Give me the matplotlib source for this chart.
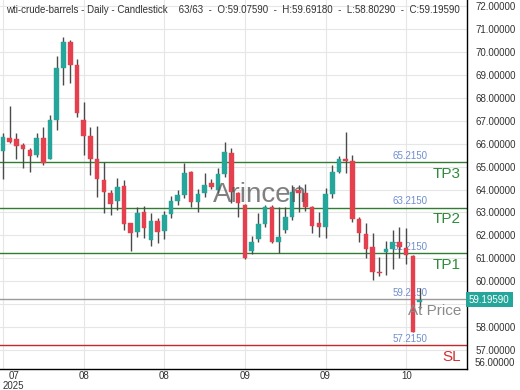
import matplotlib
matplotlib.use("Agg")
import matplotlib.pyplot as plt
import numpy as np

plt.rcParams['font.family'] = ['Liberation Sans', 'DejaVu Sans']

opens = [65.68, 66.25, 66.20, 65.94, 65.72, 65.50, 66.25, 65.33, 67.03, 69.30,
         70.44, 69.44, 67.03, 66.33, 65.33, 64.42, 63.84, 63.49, 64.15, 62.54,
         62.14, 63.01, 61.79, 62.62, 62.19, 62.93, 63.49, 63.76, 64.76, 63.45,
         63.85, 64.28, 63.98, 64.68, 65.59, 63.84, 63.32, 61.30, 61.84, 62.49,
         63.23, 61.71, 62.23, 62.80, 63.98, 63.84, 63.23, 62.54, 62.36, 63.80,
         64.76, 65.33, 65.24, 62.71, 62.05, 61.48, 60.41, 61.26, 61.39, 61.70,
         61.45, 61.10, 59.0759]
highs = [66.47, 67.65, 66.47, 66.03, 65.81, 66.47, 66.73, 67.25, 69.83, 70.66,
         70.53, 69.70, 67.82, 66.73, 66.77, 65.20, 63.98, 64.50, 64.41, 62.54,
         63.23, 63.28, 62.97, 62.75, 63.06, 63.71, 63.98, 65.15, 64.80, 64.02,
         64.72, 64.46, 64.94, 66.07, 65.81, 63.89, 63.36, 61.99, 62.97, 63.32,
         63.32, 63.23, 63.23, 64.19, 64.19, 64.24, 63.30, 63.01, 64.06, 65.07,
         65.46, 66.51, 65.51, 62.80, 62.54, 62.10, 61.04, 61.75, 62.23, 62.36,
         62.32, 61.15, 59.6918]
lows = [64.46, 66.03, 65.33, 64.94, 64.76, 65.42, 65.07, 65.33, 66.60, 68.56,
        68.65, 67.17, 65.50, 64.63, 63.67, 62.97, 62.88, 63.10, 62.23, 61.30,
        61.92, 61.88, 61.53, 61.66, 61.84, 62.75, 63.32, 63.63, 63.23, 63.01,
        63.67, 64.02, 63.85, 64.54, 63.41, 62.80, 60.98, 61.17, 61.71, 62.36,
        61.66, 61.22, 62.10, 62.67, 63.01, 63.06, 62.10, 61.92, 61.88, 63.63,
        64.72, 64.72, 62.58, 61.71, 61.00, 60.04, 60.21, 60.25, 60.51, 60.99,
        60.75, 57.78, 58.8029]
closes = [66.29, 66.08, 65.90, 65.77, 65.46, 66.25, 65.16, 67.03, 69.30, 70.44,
          69.44, 67.34, 66.33, 65.33, 64.46, 63.88, 63.36, 64.10, 62.49, 62.10,
          62.97, 62.32, 62.62, 62.14, 62.88, 63.49, 63.76, 64.72, 63.45, 63.80,
          64.19, 64.10, 64.68, 65.63, 63.89, 63.41, 61.00, 61.69, 62.49, 63.23,
          61.71, 61.92, 62.80, 63.89, 63.84, 63.23, 62.41, 62.36, 63.80, 64.76,
          65.33, 65.24, 62.71, 62.10, 61.39, 60.38, 60.34, 61.39, 61.70, 61.48,
          61.15, 57.78, 59.1959]

tick_pos = [0, 12, 24, 36, 48, 60]
tick_labels = ["07\n2025", "08", "08", "09", "09", "10"]
y_ticks = list(range(57, 73))
hidden_y_label = 59  # covered by the last-price box

levels = [65.215, 63.215, 61.215, 59.215, 57.215]
level_names = ["TP3", "TP2", "TP1", "At Price", "SL"]
level_colors = ["#2e7d32", "#2e7d32", "#2e7d32", "#9a9a9a", "#c62828"]
name_colors = ["#2e8b3c", "#2e8b3c", "#2e8b3c", "#8a8a8a", "#d32f2f"]

title = ("wti-crude-barrels - Daily - Candlestick    63/63  -  O:59.07590  -  "
         "H:59.69180  -  L:58.80290  -  C:59.19590")
last_price = 59.1959

UP = "#26a69a"
DOWN = "#e5404e"
WICK = "#4a4a4a"

fig = plt.figure(figsize=(5.2, 3.9), dpi=100)
ax = fig.add_axes([0, 21/390, 467/520, 369/390])

x = np.arange(len(opens))
o = np.array(opens); c = np.array(closes); h = np.array(highs); l = np.array(lows)
up = c >= o
cols = np.where(up, UP, DOWN)
ax.vlines(x, l, h, color=WICK, lw=1.0, zorder=3)
bottoms = np.minimum(o, c)
heights = np.maximum(np.abs(c - o), 0.05)
ax.bar(x, heights, bottom=bottoms, width=0.68, color=cols, edgecolor=cols, lw=0.3, zorder=4)

ax.set_xlim(-0.45, 69.05)
ax.set_ylim(56.16, 72.28)

ax.set_yticks(y_ticks)
ax.yaxis.tick_right()
ax.set_yticklabels(["" if v == hidden_y_label else f"{v:.5f}" for v in y_ticks])
ax.tick_params(axis='y', length=0, pad=6, labelsize=7, labelcolor='#333333')
ax.set_xticks(tick_pos)
ax.set_xticklabels(tick_labels)
ax.tick_params(axis='x', length=0, pad=1.5, labelsize=7, labelcolor='#333333')
for lab in ax.get_xticklabels():
    lab.set_linespacing(0.95)
lab0 = ax.get_xticklabels()[0]
lab0.set_ha('left'); lab0.set_multialignment('center')

ax.grid(True, color='#e6e6e6', lw=0.8, zorder=0)
ax.set_axisbelow(True)
for s in ['left', 'top']:
    ax.spines[s].set_visible(False)
for s in ['right', 'bottom']:
    ax.spines[s].set_color('black'); ax.spines[s].set_linewidth(1.0)

# 56 label pushed up inside the axis
ax.text(1 + 8/467, 6/369, "56.00000", transform=ax.transAxes, ha='left', va='center',
        fontsize=7, color='#333333', clip_on=False)

yt = ax.get_yaxis_transform()
for lv, nm, lc, nc in zip(levels, level_names, level_colors, name_colors):
    ax.axhline(lv, color=lc, lw=1.0, zorder=2)
    ax.text(410/467, lv + 0.27, f"{lv:.4f}", transform=yt, ha='center', va='center',
            fontsize=7, color='#6f8fcf', zorder=2)
    ax.text(461/467, lv - 0.52, nm, transform=yt, ha='right', va='center',
            fontsize=11, color=nc, zorder=5)

# last price box
ax.text(1 + 2/467, last_price, f"{last_price:.5f}", transform=yt, ha='left', va='center',
        fontsize=7, color='white', zorder=6, clip_on=False,
        bbox=dict(boxstyle='square,pad=0.3', fc='#26a69a', ec='none'))

fig.text(6/520, 1 - 10/390, title, ha='left', va='center', fontsize=7, color='#333333')
fig.text(0.5, 0.5, "Arincen", ha='center', va='center', fontsize=20, color='#555555',
         alpha=0.75, zorder=10)

fig.savefig("out.png", dpi=100)
